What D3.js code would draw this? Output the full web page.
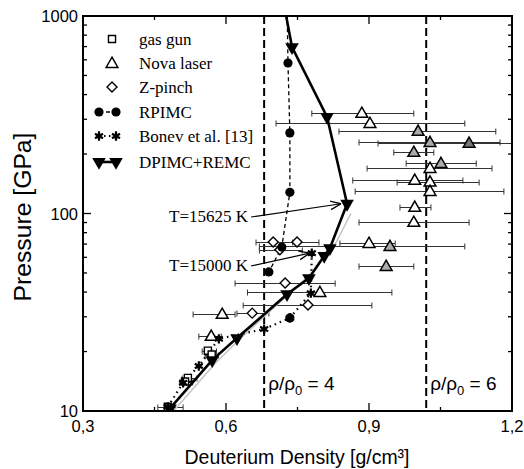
<!DOCTYPE html>
<meta charset="utf-8">
<html>
<head>
<script src="https://d3js.org/d3.v7.min.js"></script>
<style>
  body { margin: 0; background: #fff; }
  .tick-label { font-family: "Liberation Sans", Arial, sans-serif; font-size: 16.5px; }
  .serif { font-family: "Liberation Serif", "Times New Roman", serif; font-size: 17px; }
</style>
</head>
<body>
<svg id="chart" width="524" height="469"></svg>
<script>
// density [g/cm3], pressure [GPa]
var gasGun = [
  { d: 0.562, p: 20.2, lo: 0.550, hi: 0.580 },
  { d: 0.570, p: 19.3, lo: 0.556, hi: 0.584 },
  { d: 0.520, p: 14.7, lo: 0.508, hi: 0.539 },
  { d: 0.514, p: 14.1, lo: 0.503, hi: 0.530 },
  { d: 0.478, p: 10.5, lo: 0.457, hi: 0.510 }
];
// grp: 0 open, 1 grey, 2 dark grey
var nova = [
  { d: 0.885, p: 323, lo: 0.780, hi: 0.994, grp: 0 },
  { d: 0.902, p: 287, lo: 0.705, hi: 1.101, grp: 0 },
  { d: 1.003, p: 262, lo: 0.837, hi: 1.166, grp: 1 },
  { d: 1.028, p: 230, lo: 0.879, hi: 1.175, grp: 1 },
  { d: 1.110, p: 228, lo: 0.919, hi: 1.260, grp: 2 },
  { d: 0.994, p: 205, lo: 0.952, hi: 1.036, grp: 1 },
  { d: 1.051, p: 180, lo: 0.978, hi: 1.125, grp: 1 },
  { d: 1.028, p: 170, lo: 0.896, hi: 1.158, grp: 0 },
  { d: 0.996, p: 148, lo: 0.866, hi: 1.097, grp: 0 },
  { d: 1.028, p: 145, lo: 0.959, hi: 1.131, grp: 0 },
  { d: 1.028, p: 130, lo: 0.871, hi: 1.183, grp: 0 },
  { d: 0.996, p: 108, lo: 0.965, hi: 1.030, grp: 0 },
  { d: 0.994, p: 90.6, lo: 0.879, hi: 1.110, grp: 0 },
  { d: 0.900, p: 70.9, lo: 0.839, hi: 0.955, grp: 0 },
  { d: 0.944, p: 68.4, lo: 0.670, hi: 1.101, grp: 1 },
  { d: 0.936, p: 54.2, lo: 0.879, hi: 0.994, grp: 1 },
  { d: 0.797, p: 40.0, lo: 0.645, hi: 0.948, grp: 0 },
  { d: 0.592, p: 31.0, lo: 0.531, hi: 0.619, grp: 0 },
  { d: 0.569, p: 24.0, lo: 0.543, hi: 0.590, grp: 0 }
];
var zPinch = [
  { d: 0.699, p: 71.7, lo: 0.663, hi: 0.740 },
  { d: 0.749, p: 71.7, lo: 0.700, hi: 0.795 },
  { d: 0.713, p: 65.5, lo: 0.670, hi: 0.760 },
  { d: 0.724, p: 44.5, lo: 0.619, hi: 0.829 },
  { d: 0.772, p: 34.4, lo: 0.636, hi: 0.906 },
  { d: 0.655, p: 31.3, lo: 0.623, hi: 0.690 }
];
var rpimc = [[0.728, 1200], [0.730, 578], [0.734, 256], [0.734, 128], [0.717, 67.6], [0.690, 50.6]];
var rpimcLow = [[0.734, 29.6]];
var bonev = [[0.478, 10.5], [0.510, 13.9], [0.543, 16.9], [0.585, 23.2], [0.680, 26.0], [0.734, 29.6], [0.778, 39.5], [0.780, 63.0]];
var dpimc = [[0.720, 1200], [0.7385, 696], [0.812, 308], [0.854, 112], [0.818, 66.8], [0.806, 61.0], [0.774, 47.1], [0.728, 39.0], [0.623, 23.4], [0.571, 18.1], [0.4825, 10.3]];
var greyCurve = [[0.490, 10], [0.578, 17.5], [0.632, 23.5], [0.780, 50], [0.832, 72], [0.862, 100]];
var compression = [{ d: 0.68, n: "4" }, { d: 1.02, n: "6" }];
var xMajor = [0.3, 0.6, 0.9, 1.2];
var xMinor = [0.45, 0.75, 1.05];
var yMajor = [10, 100, 1000];
var yMinor = [20, 30, 40, 50, 60, 70, 80, 90, 200, 300, 400, 500, 600, 700, 800, 900];
var legendItems = ["gas gun", "Nova laser", "Z-pinch", "RPIMC", "Bonev et al. [13]", "DPIMC+REMC"];

var svg = d3.select("#chart");
var x = d3.scaleLinear().domain([0.3, 1.2]).range([83, 512]);
var y = d3.scaleLog().domain([10, 1000]).range([411, 16]);

svg.append("clipPath").attr("id", "clip")
  .append("rect").attr("x", 83).attr("y", 16).attr("width", 429).attr("height", 395);
var plot = svg.append("g").attr("clip-path", "url(#clip)");

var line = d3.line().x(function (d) { return x(d[0]); }).y(function (d) { return y(d[1]); });

// compression lines
plot.selectAll(".comp").data(compression).enter().append("line")
  .attr("x1", function (d) { return x(d.d); }).attr("x2", function (d) { return x(d.d); })
  .attr("y1", 16).attr("y2", 411)
  .style("stroke", "#000").style("stroke-width", 2).style("stroke-dasharray", "8,4");

// error bars
function errorBars(data) {
  var g = plot.append("g").style("stroke", "#333").style("stroke-width", 1);
  data.forEach(function (d) {
    var yy = Math.round(y(d.p)) + 0.5;
    g.append("line").attr("x1", x(d.lo)).attr("x2", x(d.hi)).attr("y1", yy).attr("y2", yy);
    g.append("line").attr("x1", x(d.lo)).attr("x2", x(d.lo)).attr("y1", yy - 3).attr("y2", yy + 3);
    g.append("line").attr("x1", x(d.hi)).attr("x2", x(d.hi)).attr("y1", yy - 3).attr("y2", yy + 3);
  });
}
errorBars(nova);
errorBars(zPinch);
errorBars(gasGun);

plot.append("path").attr("d", line(greyCurve))
  .style("fill", "none").style("stroke", "#c4c4c4").style("stroke-width", 1.5);

plot.append("path").attr("d", line(rpimc))
  .style("fill", "none").style("stroke", "#000").style("stroke-width", 1.3).style("stroke-dasharray", "4,3");
plot.append("path").attr("d", line(bonev))
  .style("fill", "none").style("stroke", "#000").style("stroke-width", 2.2).style("stroke-dasharray", "1.5,4");
plot.append("path").attr("d", line(dpimc))
  .style("fill", "none").style("stroke", "#000").style("stroke-width", 2.6);

var tri = d3.symbol().type(d3.symbolTriangle).size(60);
var triDown = d3.symbol().type(d3.symbolTriangle).size(80);
var sq = d3.symbol().type(d3.symbolSquare).size(50);
var ast = d3.symbol().type(d3.symbolAsterisk).size(60);
var novaFill = ["#fff", "#aaa", "#777"];

function drawSquare(g, cx, cy) {
  g.append("path").attr("d", sq()).attr("transform", "translate(" + cx + "," + cy + ")")
    .style("fill", "#fff").style("stroke", "#000").style("stroke-width", 1.4);
}
function drawTri(g, cx, cy, f) {
  g.append("path").attr("d", tri()).attr("transform", "translate(" + cx + "," + (cy + 1) + ")")
    .style("fill", f).style("stroke", "#000").style("stroke-width", 1.5);
}
function drawDia(g, cx, cy) {
  g.append("path").attr("d", sq()).attr("transform", "translate(" + cx + "," + cy + ") rotate(45)")
    .style("fill", "#fff").style("stroke", "#000").style("stroke-width", 1.4);
}
function drawCircle(g, cx, cy) {
  g.append("circle").attr("cx", cx).attr("cy", cy).attr("r", 4.6).style("fill", "#000");
}
function drawAst(g, cx, cy) {
  g.append("path").attr("d", ast()).attr("transform", "translate(" + cx + "," + cy + ")")
    .style("fill", "none").style("stroke", "#000").style("stroke-width", 2.2);
  g.append("circle").attr("cx", cx).attr("cy", cy).attr("r", 2.6).style("fill", "#000");
}
function drawTriDown(g, cx, cy) {
  g.append("path").attr("d", triDown()).attr("transform", "translate(" + cx + "," + cy + ") rotate(180)")
    .style("fill", "#000");
}

gasGun.forEach(function (d) { drawSquare(plot, x(d.d), y(d.p)); });
nova.forEach(function (d) { drawTri(plot, x(d.d), y(d.p), novaFill[d.grp]); });
zPinch.forEach(function (d) { drawDia(plot, x(d.d), y(d.p)); });
rpimc.forEach(function (d) { drawCircle(plot, x(d[0]), y(d[1])); });
rpimcLow.forEach(function (d) { drawCircle(plot, x(d[0]), y(d[1])); });
bonev.forEach(function (d) { drawAst(plot, x(d[0]), y(d[1])); });
dpimc.forEach(function (d) { drawTriDown(plot, x(d[0]), y(d[1])); });

// compression labels
var compLab = svg.selectAll(".complab").data(compression).enter().append("text")
  .attr("x", function (d) { return x(d.d) + 4; }).attr("y", 390)
  .style("font-family", "Liberation Sans, Arial, sans-serif").style("font-size", "19px");
compLab.append("tspan").text("ρ/ρ");
compLab.append("tspan").attr("dy", 5).style("font-size", "13px").text("0");
compLab.append("tspan").attr("dy", -5).text(function (d) { return " = " + d.n; });

// temperature annotations
svg.append("defs").append("marker").attr("id", "arrow")
  .attr("viewBox", "0 0 10 10").attr("refX", 10).attr("refY", 5)
  .attr("markerWidth", 9).attr("markerHeight", 9).attr("orient", "auto")
  .append("path").attr("d", "M0,1 L10,5 L0,9").style("fill", "none").style("stroke", "#000").style("stroke-width", 1.2);
var notes = [
  { t: "T=15625 K", ty: 222, target: dpimc[3], dx: -6 },
  { t: "T=15000 K", ty: 271, target: bonev[7], dx: -2 }
];
notes.forEach(function (n) {
  svg.append("text").attr("class", "serif").attr("x", 248).attr("y", n.ty)
    .attr("text-anchor", "end").text(n.t);
  svg.append("line").attr("x1", 251).attr("y1", n.ty - 5)
    .attr("x2", x(n.target[0]) + n.dx).attr("y2", y(n.target[1]))
    .style("stroke", "#000").style("stroke-width", 1.2).attr("marker-end", "url(#arrow)");
});

// axes frame and ticks
svg.append("rect").attr("x", 83).attr("y", 16).attr("width", 429).attr("height", 395)
  .style("fill", "none").style("stroke", "#000").style("stroke-width", 2);
var tk = svg.append("g").style("stroke", "#000").style("stroke-width", 1.3);
function xTicks(vals, len) {
  vals.forEach(function (v) {
    tk.append("line").attr("x1", x(v)).attr("x2", x(v)).attr("y1", 411).attr("y2", 411 - len);
    tk.append("line").attr("x1", x(v)).attr("x2", x(v)).attr("y1", 16).attr("y2", 16 + len);
  });
}
function yTicks(vals, len) {
  vals.forEach(function (v) {
    tk.append("line").attr("x1", 83).attr("x2", 83 + len).attr("y1", y(v)).attr("y2", y(v));
    tk.append("line").attr("x1", 512).attr("x2", 512 - len).attr("y1", y(v)).attr("y2", y(v));
  });
}
xTicks(xMajor, 8); xTicks(xMinor, 4);
yTicks(yMajor, 8); yTicks(yMinor, 4);

svg.selectAll(".xl").data(xMajor).enter().append("text").attr("class", "tick-label")
  .attr("x", function (d) { return x(d); }).attr("y", 432).attr("text-anchor", "middle")
  .text(function (d) { return d3.format(".1f")(d).replace(".", ","); });
svg.selectAll(".yl").data(yMajor).enter().append("text").attr("class", "tick-label")
  .attr("x", 78).attr("y", function (d) { return y(d) + 6; }).attr("text-anchor", "end")
  .text(function (d) { return d; });

svg.append("text").attr("x", 297).attr("y", 464).attr("text-anchor", "middle")
  .attr("textLength", 225).attr("lengthAdjust", "spacingAndGlyphs")
  .style("font-family", "Liberation Sans, Arial, sans-serif").style("font-size", "20px")
  .text("Deuterium Density [g/cm³]");
svg.append("text").attr("transform", "translate(31,217) rotate(-90)").attr("text-anchor", "middle")
  .attr("textLength", 169).attr("lengthAdjust", "spacingAndGlyphs")
  .style("font-family", "Liberation Sans, Arial, sans-serif").style("font-size", "23px")
  .text("Pressure [GPa]");

// legend
var lg = svg.append("g");
var ly = [39, 63, 87, 112, 136, 162];
legendItems.forEach(function (t, i) {
  lg.append("text").attr("class", "serif").attr("x", 139).attr("y", ly[i] + 5.5).text(t);
});
drawSquare(lg, 112, ly[0]);
drawTri(lg, 112, ly[1], "#fff");
drawDia(lg, 112, ly[2]);
lg.append("line").attr("x1", 99).attr("x2", 116).attr("y1", ly[3]).attr("y2", ly[3])
  .style("stroke", "#000").style("stroke-width", 1.3).style("stroke-dasharray", "4,3");
drawCircle(lg, 99, ly[3]); drawCircle(lg, 116, ly[3]);
lg.append("line").attr("x1", 99).attr("x2", 116).attr("y1", ly[4]).attr("y2", ly[4])
  .style("stroke", "#000").style("stroke-width", 2).style("stroke-dasharray", "1.5,3.5");
drawAst(lg, 99, ly[4]); drawAst(lg, 116, ly[4]);
lg.append("line").attr("x1", 99).attr("x2", 116).attr("y1", ly[5]).attr("y2", ly[5])
  .style("stroke", "#000").style("stroke-width", 2.6);
drawTriDown(lg, 99, ly[5]); drawTriDown(lg, 116, ly[5]);
</script>
</body>
</html>
